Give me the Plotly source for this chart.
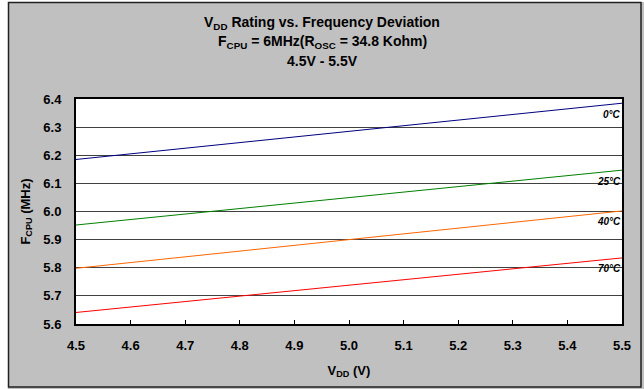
import plotly.graph_objects as go

vdd = [4.5, 5.0, 5.5]
f_0c = [6.185, 6.285, 6.385]
f_25c = [5.952, 6.050, 6.147]
f_40c = [5.798, 5.900, 6.002]
f_70c = [5.641, 5.738, 5.835]
series_names = ["0°C", "25°C", "40°C", "70°C"]
series_vals = [f_0c, f_25c, f_40c, f_70c]
colors = ["#000080", "#008000", "#FF6600", "#FF0000"]
x_ticks = [4.5, 4.6, 4.7, 4.8, 4.9, 5.0, 5.1, 5.2, 5.3, 5.4, 5.5]
y_ticks = [5.6, 5.7, 5.8, 5.9, 6.0, 6.1, 6.2, 6.3, 6.4]
title_lines = ["V<sub>DD</sub> Rating vs. Frequency Deviation",
               "F<sub>CPU</sub> = 6MHz(R<sub>OSC</sub> = 34.8 Kohm)",
               "4.5V - 5.5V"]

FONT = "Liberation Sans, Arial, sans-serif"

L, R, T, B = 76, 22, 99, 65
W, H = 644, 389
pw, ph = W - L - R, H - T - B

def px(x):
    return (x - L) / pw

def py(y):
    return (H - B - y) / ph

fig = go.Figure()
for name, vals, c in zip(series_names, series_vals, colors):
    fig.add_trace(go.Scatter(x=vdd, y=vals, mode="lines", name=name,
                             line=dict(color=c, width=1), showlegend=False,
                             hoverinfo="skip"))
    fig.add_annotation(x=vdd[-1], y=vals[-1], text="<b><i>%s</i></b>" % name,
                       showarrow=False, xanchor="right", yanchor="middle",
                       yshift=-11, xshift=1,
                       font=dict(family=FONT, size=10, color="black"))

for i, t in enumerate(title_lines):
    fig.add_annotation(xref="paper", yref="paper", x=px(322), y=py(23 + 19 * i),
                       text="<b>%s</b>" % t, showarrow=False,
                       xanchor="center", yanchor="middle",
                       font=dict(family=FONT, size=14, color="black"))

fig.update_layout(
    width=W, height=H,
    margin=dict(l=L, r=R, t=T, b=B),
    paper_bgcolor="#C0C0C0",
    plot_bgcolor="white",
    xaxis=dict(
        range=[4.5, 5.5], tickvals=x_ticks, tickformat=".1f",
        ticks="inside", ticklen=4, tickcolor="black", tickwidth=1,
        ticklabelstandoff=8,
        showgrid=False, zeroline=False,
        showline=True, linecolor="black", linewidth=2, mirror=True,
        tickfont=dict(family=FONT, size=13, color="black", weight="bold"),
        title=dict(text="V<sub>DD</sub> (V)", standoff=14,
                   font=dict(family=FONT, size=13, color="black", weight="bold")),
    ),
    yaxis=dict(
        range=[5.6, 6.4], tickvals=y_ticks, tickformat=".1f",
        ticks="", showgrid=True, gridcolor="#404040", gridwidth=1,
        ticklabelstandoff=10,
        zeroline=False,
        showline=True, linecolor="black", linewidth=2, mirror=True,
        tickfont=dict(family=FONT, size=13, color="black", weight="bold"),
        title=dict(text="F<sub>CPU</sub> (MHz)", standoff=10,
                   font=dict(family=FONT, size=13, color="black", weight="bold")),
    ),
)

# white margin outside outer frame
fig.add_shape(type="rect", xref="paper", yref="paper",
              x0=px(0), x1=px(8), y0=py(H), y1=py(0),
              fillcolor="white", line=dict(width=0), layer="above")
fig.add_shape(type="rect", xref="paper", yref="paper",
              x0=px(0), x1=px(W), y0=py(2), y1=py(0),
              fillcolor="white", line=dict(width=0), layer="above")
# outer frame
fig.add_shape(type="rect", xref="paper", yref="paper",
              x0=px(8.5), x1=px(641), y0=py(387), y1=py(2.5),
              line=dict(color="#202020", width=1.5), layer="above")

fig.write_html("out.html", config={"displayModeBar": False},
               post_script="document.body.style.margin='0';document.body.style.padding='0';")
